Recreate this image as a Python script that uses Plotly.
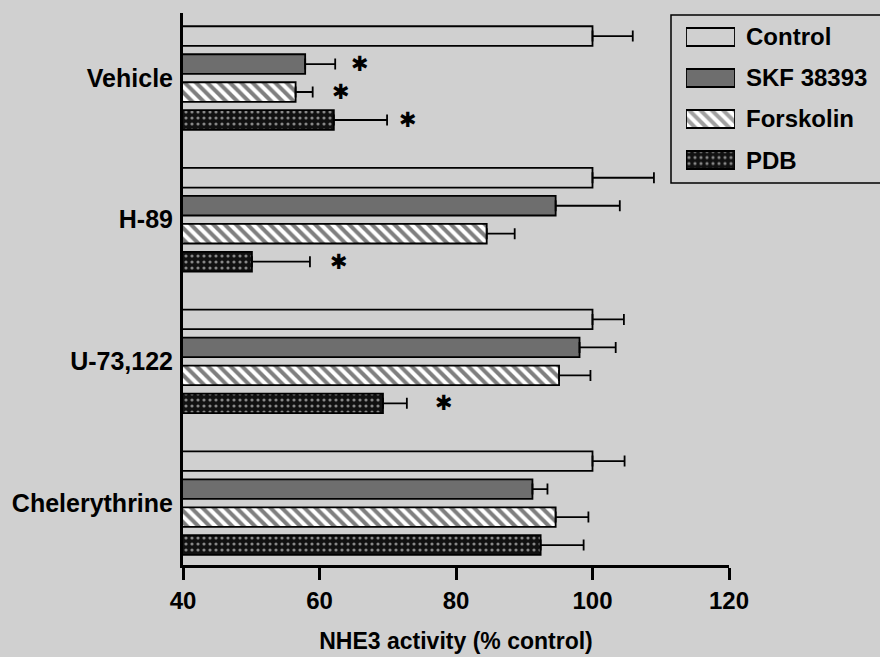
import plotly.graph_objects as go

# ---------------- data ----------------
groups = ["Vehicle", "H-89", "U-73,122", "Chelerythrine"]
series = ["Control", "SKF 38393", "Forskolin", "PDB"]
control = [100, 100, 100, 100]
control_err = [5.9, 9.0, 4.6, 4.7]
skf = [57.9, 94.6, 98.1, 91.2]
skf_err = [4.4, 9.4, 5.3, 2.2]
forskolin = [56.5, 84.5, 95.1, 94.6]
forskolin_err = [2.5, 4.1, 4.6, 4.8]
pdb = [62.1, 50.1, 69.3, 92.4]
pdb_err = [7.8, 8.5, 3.5, 6.3]
star_group = ["Vehicle", "Vehicle", "Vehicle", "H-89", "U-73,122"]
star_series = ["SKF 38393", "Forskolin", "PDB", "PDB", "PDB"]
star_x = [65.9, 63.1, 72.9, 62.8, 78.2]
x_ticks = [40, 60, 80, 100, 120]

values = [control, skf, forskolin, pdb]
errors = [control_err, skf_err, forskolin_err, pdb_err]

# ---------------- styles ----------------
BG = "#d0d0d0"
FONT = "Liberation Sans"
fills = [BG, "#6e6e6e", "white", "#111111"]
pat_shape = ["", "", "\\", "."]
pat_fg = ["black", "black", "black", "white"]
pat_size = [8, 8, 8, 6]
pat_sol = [0.3, 0.3, 0.5, 0.22]
BARGAP = 0.21

fig = go.Figure()
for k, name in enumerate(series):
    fig.add_trace(go.Bar(
        y=groups, x=values[k], orientation="h", name=name, showlegend=False,
        marker=dict(color=fills[k], line=dict(color="black", width=1.8),
                    pattern=dict(shape=pat_shape[k], fgcolor=pat_fg[k], bgcolor=fills[k],
                                 size=pat_size[k], solidity=pat_sol[k], fillmode="overlay")),
        error_x=dict(type="data", symmetric=False, array=errors[k],
                     arrayminus=[0] * len(groups), color="black", thickness=1.8, width=5.5),
        xaxis="x", yaxis="y",
    ))

# legend drawn as an inset of swatches
fig.add_trace(go.Bar(
    y=series, x=[1] * len(series), orientation="h", showlegend=False, width=0.44,
    marker=dict(color=fills, line=dict(color="black", width=1.8),
                pattern=dict(shape=pat_shape, fgcolor=pat_fg, bgcolor=fills,
                             size=pat_size, solidity=pat_sol, fillmode="overlay")),
    xaxis="x2", yaxis="y2", hoverinfo="skip",
))

# significance asterisks
n = len(series)
w = (1 - BARGAP) / n
annotations = []
for g, s, xv in zip(star_group, star_series, star_x):
    k = series.index(s)
    off = -(1 - BARGAP) / 2 + w * (k + 0.5)
    annotations.append(dict(x=xv, y=groups.index(g) + off, xref="x", yref="y",
                            text="<b>✱</b>", showarrow=False,
                            font=dict(family="DejaVu Sans", size=21, color="black")))

W, H = 880, 657
ML, MR, MT, MB = 183, 0, 13, 92
pw = W - ML - MR
ph = H - MT - MB

def px(xpix):
    return (xpix - ML) / pw

def py(ypix):
    return (H - MB - ypix) / ph

for s in series:
    annotations.append(dict(x=px(744), y=s, xref="paper", yref="y2", text=s,
                            xanchor="left", showarrow=False,
                            font=dict(family=FONT, size=24, color="black", weight="bold")))

fig.update_layout(
    width=W, height=H,
    showlegend=False,
    margin=dict(l=ML, r=MR, t=MT, b=MB, autoexpand=False),
    paper_bgcolor=BG, plot_bgcolor=BG,
    barmode="group", bargap=BARGAP, bargroupgap=0.3,
    font=dict(family=FONT, size=24, color="black", weight="bold"),
    xaxis=dict(domain=[0, px(729)], range=[40, 120], tickvals=x_ticks,
               showgrid=False, zeroline=False, showline=True, linecolor="black",
               linewidth=3, ticks="outside", ticklen=12, tickwidth=2.5, tickcolor="black",
               automargin=False,
               tickfont=dict(family=FONT, size=24, weight="bold"),
               title=dict(text="NHE3 activity (% control)", standoff=21,
                          font=dict(family=FONT, size=23, weight="bold")),
               anchor="y"),
    yaxis=dict(domain=[0, 1], range=[3.437, -0.459], type="category",
               categoryorder="array", categoryarray=groups,
               showgrid=False, zeroline=False, showline=True, linecolor="black",
               linewidth=3, ticks="", ticklabelstandoff=2, automargin=False,
               tickfont=dict(family=FONT, size=25, weight="bold"), anchor="x"),
    xaxis2=dict(domain=[px(686), px(735)], range=[0, 1], visible=False, anchor="y2",
                fixedrange=True),
    yaxis2=dict(domain=[py(180.5), py(16.5)], range=[3.5, -0.5], type="category",
                categoryorder="array", categoryarray=series, visible=False, anchor="x2",
                fixedrange=True),
    annotations=annotations,
    shapes=[dict(type="rect", xref="paper", yref="paper", x0=px(671), x1=px(900),
                 y0=py(183), y1=py(15), line=dict(color="black", width=1.5),
                 fillcolor="rgba(0,0,0,0)", layer="below")],
)

fig.write_html("out.html")
